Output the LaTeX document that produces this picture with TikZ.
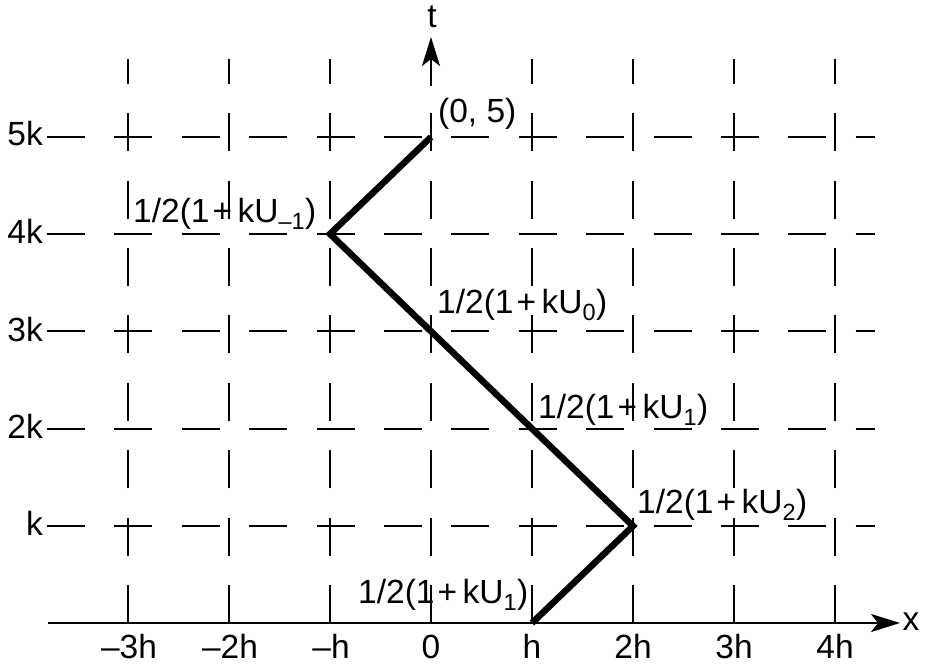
\documentclass[tikz,border=0pt]{standalone}
\usepackage{fontspec}
\setmainfont{Liberation Sans}
\usetikzlibrary{arrows.meta}
\newcommand{\pl}{\kern3pt+\kern5.5pt}
\begin{document}
\begin{tikzpicture}[x=1pt,y=-1pt,
  gridline/.style={line width=2.3pt, dash pattern=on 38pt off 29.4pt},
  axisline/.style={line width=2.3pt},
  pathline/.style={line width=6.5pt, line join=miter},
  txt/.style={font=\fontsize{33.5pt}{38pt}\selectfont, inner sep=0pt},
  lbl/.style={txt, anchor=base west},
  rowlbl/.style={txt, anchor=base east},
  collbl/.style={txt, anchor=base},
  tip/.style={-{Stealth[length=29pt,width=18pt,inset=7pt]}}
]
\useasboundingbox (0,0) rectangle (925,667);
% grid
\foreach \c in {128,229,330,431,532,633,734,835}
  \draw[gridline] (\c,623) -- (\c,59);
\foreach \r in {526,429,331,234,137}
  \draw[gridline] (47,\r) -- (875,\r);
% axes
\coordinate (xstart) at (48,623);
\coordinate (xend) at (900,623);
\coordinate (tbase) at (431,86);
\coordinate (tend) at (431,37);
\draw[axisline,tip] (xstart) -- (xend);
\draw[axisline,tip] (tbase) -- (tend);
\node[collbl] (tlab) at (432,27) {t};
\node[collbl] (xlab) at (911,630) {x};
% row labels
\node[rowlbl] (r5) at (43,145.5) {5k};
\node[rowlbl] (r4) at (43,243) {4k};
\node[rowlbl] (r3) at (43,341.5) {3k};
\node[rowlbl] (r2) at (43,438.5) {2k};
\node[rowlbl] (r1) at (43,535.5) {k};
% column labels
\node[collbl] (c1) at (129,658) {--3h};
\node[collbl] (c2) at (230,658) {--2h};
\node[collbl] (c3) at (331,658) {--h};
\node[collbl] (c4) at (431,658) {0};
\node[collbl] (c5) at (532,658) {h};
\node[collbl] (c6) at (633,658) {2h};
\node[collbl] (c7) at (734,658) {3h};
\node[collbl] (c8) at (835,658) {4h};
% path
\coordinate (P0) at (532,623);
\coordinate (P1) at (633,526);
\coordinate (P2) at (330,234);
\coordinate (P3) at (431,137);
\draw[pathline] (P0) -- (P1) -- (P2) -- (P3);
% point labels
\node[lbl] (l5) at (438,122) {(0, 5)};
\node[lbl] (lm1) at (133,222) {1/2(1\pl kU\textsubscript{--1})};
\node[lbl] (l0) at (437,313) {1/2(1\pl kU\textsubscript{0})};
\node[lbl] (l1a) at (538,418) {1/2(1\pl kU\textsubscript{1})};
\node[lbl] (l2) at (637,513) {1/2(1\pl kU\textsubscript{2})};
\node[lbl] (l1b) at (358,603) {1/2(1\pl kU\textsubscript{1})};
\end{tikzpicture}
\end{document}
